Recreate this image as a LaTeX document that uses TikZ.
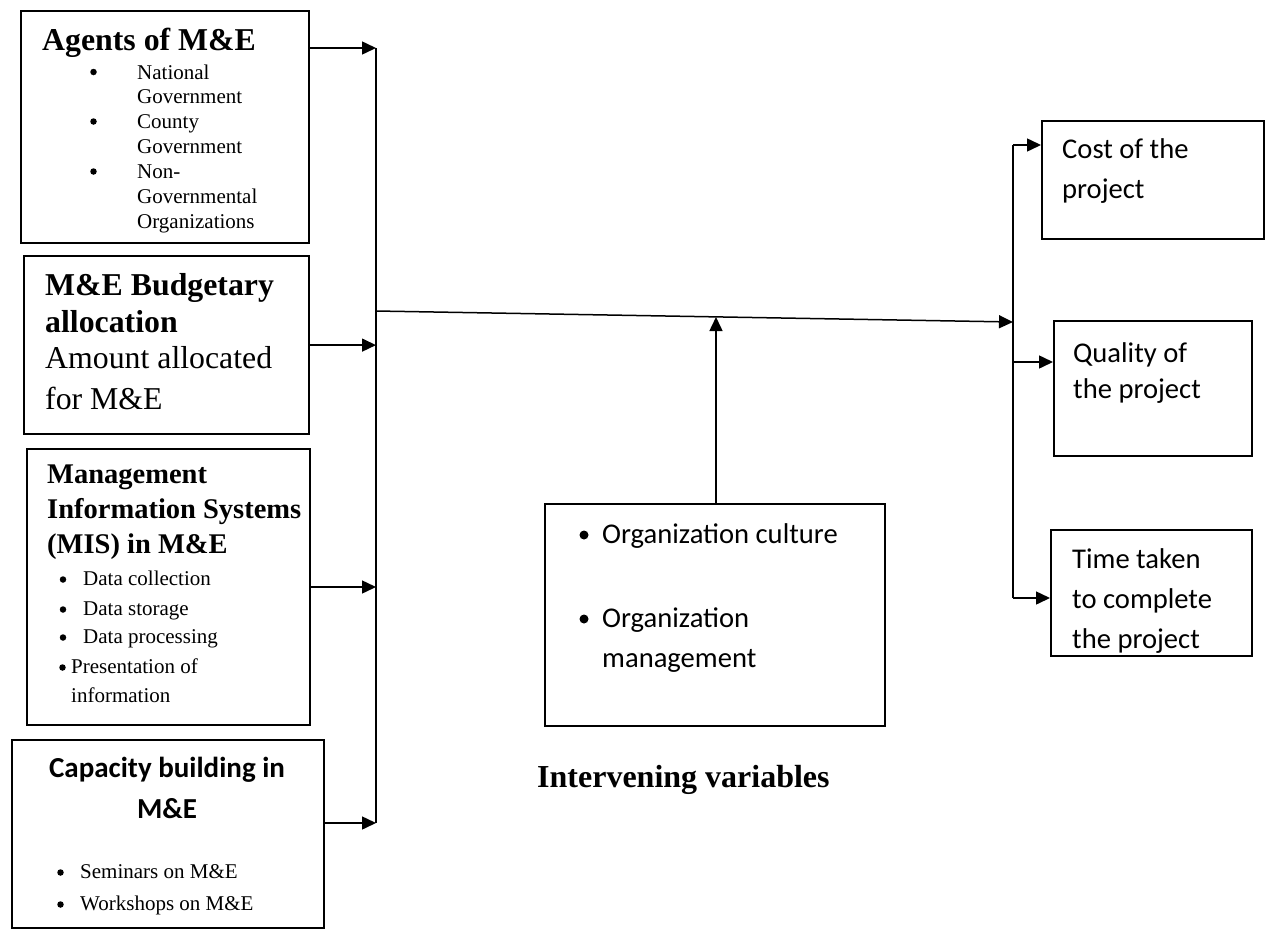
\documentclass[tikz,border=0pt]{standalone}
\usepackage{fontspec}
\setmainfont{Liberation Serif}
\newfontfamily\calibri{Carlito}
\usetikzlibrary{arrows.meta}
\tikzset{
  box/.style={draw, line width=1.6pt, inner sep=0pt, anchor=north west},
  thickbox/.style={box, line width=2.2pt},
  txt/.style={anchor=base west, inner sep=0pt},
  tb/.style={txt, font=\bfseries\fontsize{31.8}{36}\selectfont},
  tr/.style={txt, font=\fontsize{31.8}{36}\selectfont},
  tbm/.style={txt, font=\bfseries\fontsize{28.5}{33}\selectfont},
  sm/.style={txt, font=\fontsize{21}{25}\selectfont},
  cal/.style={txt, font=\calibri\fontsize{28.6}{33}\selectfont},
  calb/.style={anchor=base, inner sep=0pt, font=\calibri\bfseries\fontsize{29}{33}\selectfont},
  bul/.style={circle, fill, inner sep=0pt, minimum size=6.5pt},
  bigbul/.style={circle, fill, inner sep=0pt, minimum size=9pt},
  ln/.style={line width=1.5pt},
  arr/.style={line width=1.5pt, -{Triangle[length=14pt,width=13pt]}}
}
\begin{document}
\begin{tikzpicture}[x=1pt,y=-1pt]
\useasboundingbox (0,0) rectangle (1267,929);

% Agents of M&E
\node[thickbox, minimum width=288pt, minimum height=232pt] (agents) at (20,10) {};
\node[tb] (agT) at (42,50) {Agents of M\&E};
\node[bul] (agb1) at (93.5,72) {};
\node[sm] (ag1) at (137,79) {National};
\node[sm] (ag2) at (137,103) {Government};
\node[bul] (agb2) at (93.5,121.5) {};
\node[sm] (ag3) at (137,128) {County};
\node[sm] (ag4) at (137,153) {Government};
\node[bul] (agb3) at (93.5,171.5) {};
\node[sm] (ag5) at (137,178) {Non-};
\node[sm] (ag6) at (137,203) {Governmental};
\node[sm] (ag7) at (137,228) {Organizations};

% Budget
\node[thickbox, minimum width=285pt, minimum height=178pt] (budget) at (23,255) {};
\node[tb] (buT1) at (45,295) {M\&E Budgetary};
\node[tb] (buT2) at (45,332) {allocation};
\node[tr] (bu1) at (45,368) {Amount allocated};
\node[tr] (bu2) at (45,409) {for M\&E};

% MIS
\node[box, line width=2pt, minimum width=283pt, minimum height=276pt] (mis) at (26,448) {};
\node[tbm] (miT1) at (47,483) {Management};
\node[tbm] (miT2) at (47,518) {Information Systems};
\node[tbm] (miT3) at (47,553) {(MIS) in M\&E};
\node[bul] (mib1) at (63,579.5) {};
\node[sm] (mi1) at (83,585) {Data collection};
\node[bul] (mib2) at (63,609.5) {};
\node[sm] (mi2) at (83,615) {Data storage};
\node[bul] (mib3) at (63,637.5) {};
\node[sm] (mi3) at (83,643) {Data processing};
\node[bul] (mib4) at (62.5,667.5) {};
\node[sm] (mi4) at (71,673) {Presentation of};
\node[sm] (mi5) at (71,702) {information};

% Capacity building
\node[thickbox, minimum width=312pt, minimum height=188pt] (cap) at (11,739) {};
\node[calb] (caT1) at (167,777) {Capacity building in};
\node[calb] (caT2) at (167,818) {M\&E};
\node[bul] (cab1) at (60.5,872.5) {};
\node[sm] (ca1) at (80,878) {Seminars on M\&E};
\node[bul] (cab2) at (60.5,904.5) {};
\node[sm] (ca2) at (80,910) {Workshops on M\&E};

% Intervening box
\node[box, line width=2pt, minimum width=340pt, minimum height=222pt] (interv) at (544,503) {};
\node[bigbul] (inb1) at (584,535) {};
\node[cal] (in1) at (602,543) {Organization culture};
\node[bigbul] (inb2) at (584,619) {};
\node[cal] (in2) at (602,627) {Organization};
\node[cal] (in3) at (602,667) {management};
\node[txt, font=\bfseries\fontsize{32}{36}\selectfont] (inT) at (537,787) {Intervening variables};

% Right boxes
\node[box, minimum width=222pt, minimum height=118pt] (cost) at (1041,120) {};
\node[cal] (co1) at (1062,158) {Cost of the};
\node[cal] (co2) at (1062,198) {project};
\node[box, minimum width=198pt, minimum height=135pt] (quality) at (1053,320) {};
\node[cal] (qu1) at (1073,362) {Quality of};
\node[cal] (qu2) at (1073,398) {the project};
\node[box, minimum width=201pt, minimum height=126pt] (time) at (1050,529) {};
\begin{scope}
\clip (time.north west) rectangle (time.south east);
\node[cal] (ti1) at (1072,568) {Time taken};
\node[cal] (ti2) at (1072,608) {to complete};
\node[cal] (ti3) at (1072,648) {the project};
\end{scope}

% Left bus
\coordinate (busTop) at (376,48);
\coordinate (busBot) at (376,823);
\coordinate (busMain) at (376,311);
\draw[ln, line width=2pt] (busTop) -- (busBot);
\draw[arr] (agents.east |- busTop) -- (busTop);
\draw[arr] (budget.east) -- (budget.east -| busTop);
\draw[arr] (mis.east |- 0,587) coordinate (misOut) -- (misOut -| busTop);
\draw[arr] (cap.east |- busBot) -- (busBot);

% Main line to right bus
\coordinate (rbusTop) at (1013,145);
\coordinate (rbusMid) at (1013,322);
\coordinate (rbusQ) at (1013,362);
\coordinate (rbusBot) at (1013,598);
\coordinate (midPt) at (716,317);
\draw[arr] (busMain) -- (rbusMid);
\draw[arr] (interv.north -| 716,0) -- (midPt);

% Right bus
\draw[ln, line width=2pt] (rbusTop) -- (rbusBot);
\draw[arr] (rbusTop) -- (cost.west |- rbusTop);
\draw[arr] (rbusQ) -- (quality.west |- rbusQ);
\draw[arr] (rbusBot) -- (time.west |- rbusBot);
\end{tikzpicture}
\end{document}
